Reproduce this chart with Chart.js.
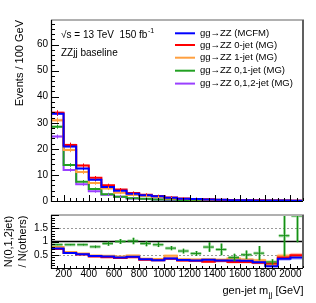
<!DOCTYPE html>
<html><head><meta charset="utf-8">
<script src="https://cdn.jsdelivr.net/npm/chart.js@4.4.1/dist/chart.umd.min.js"></script>
<style>
html,body{margin:0;padding:0;background:#fff;width:316px;height:303px;overflow:hidden;}
#c1{position:absolute;left:0;top:0;}
#c2{position:absolute;left:0;top:206px;}
</style></head><body>
<canvas id="c1" width="316" height="210"></canvas>
<canvas id="c2" width="316" height="97"></canvas>
<script>
// ---------- data ----------
const binEdges = [100,200,300,400,500,600,700,800,900,1000,1100,1200,1300,1400,1500,1600,1700,1800,1900,2000,2100];
const seriesLabels = ['gg\u2192ZZ (MCFM)','gg\u2192ZZ 0-jet (MG)','gg\u2192ZZ 1-jet (MG)','gg\u2192ZZ 0,1-jet (MG)','gg\u2192ZZ 0,1,2-jet (MG)'];

const mcfm  = [33.5,20.9,12.5,8.1,5.4,3.9,2.8,2.2,1.8,1.2,0.9,0.75,0.55,0.45,0.33,0.28,0.22,0.18,0.15,0.12];
const mg0   = [33.8,21.5,13.6,8.9,6.0,4.4,3.1,2.4,1.9,1.3,1.0,0.8,0.65,0.5,0.4,0.32,0.26,0.2,0.15,0.12];
const mg1   = [31.0,19.6,11.1,6.9,4.8,3.2,2.3,1.9,1.5,0.95,0.8,0.65,0.5,0.42,0.28,0.25,0.18,0.16,0.13,0.12];
const mg01  = [28.5,13.8,7.4,4.6,2.6,1.6,1.1,0.82,0.62,0.55,0.43,0.4,0.2,0.18,0.22,0.15,0.1,0.15,0.05,0.03];
const mg012 = [24.7,11.9,6.4,3.7,2.4,1.6,1.0,0.75,0.55,0.43,0.28,0.22,0.16,0.13,0.09,0.075,0.05,0.035,0.06,0.06];

const mcfmErr  = [0.5,0.4,0.3,0.25,0.2,0.18,0.15,0.13,0.11,0.1,0.09,0.08,0.07,0.06,0.06,0.05,0.05,0.04,0.04,0.04];
const mg0Err   = [0.6,0.5,0.4,0.3,0.25,0.2,0.18,0.15,0.13,0.11,0.1,0.09,0.08,0.07,0.06,0.05,0.05,0.04,0.04,0.04];
const mg1Err   = [0.6,0.5,0.4,0.3,0.25,0.2,0.18,0.15,0.13,0.11,0.1,0.09,0.08,0.07,0.06,0.05,0.05,0.04,0.04,0.04];
const mg01Err  = [0.4,0.3,0.25,0.2,0.15,0.12,0.1,0.08,0.07,0.06,0.05,0.05,0.04,0.04,0.03,0.03,0.03,0.02,0.02,0.02];
const mg012Err = [0.4,0.3,0.2,0.15,0.12,0.1,0.08,0.07,0.06,0.05,0.05,0.04,0.04,0.03,0.03,0.03,0.02,0.02,0.02,0.02];

// ratio N(0,1,2jet)/N(others)
const ratioMcfm = [0.74,0.57,0.52,0.45,0.43,0.40,0.42,0.33,0.29,0.36,0.30,0.28,0.31,0.28,0.28,0.27,0.22,0.07,0.35,0.40];
const ratioMg0  = [0.72,0.57,0.51,0.43,0.41,0.38,0.41,0.31,0.29,0.35,0.28,0.27,0.24,0.27,0.23,0.23,0.20,0.17,0.40,0.48];
const ratioMg1  = [0.79,0.60,0.55,0.47,0.46,0.43,0.47,0.35,0.34,0.46,0.33,0.32,0.33,0.31,0.36,0.32,0.29,0.10,0.46,0.45];
const ratioMg01 = [0.88,0.88,0.88,0.80,0.92,1.00,1.02,0.92,0.88,0.75,0.64,0.55,0.79,0.70,0.40,0.50,0.56,0.23,1.22,1.97];

const ratioMcfmErr = [0.02,0.02,0.02,0.03,0.03,0.03,0.04,0.04,0.04,0.05,0.05,0.05,0.05,0.06,0.06,0.06,0.06,0.05,0.08,0.09];
const ratioMg0Err  = [0.02,0.02,0.02,0.03,0.03,0.03,0.04,0.04,0.04,0.05,0.05,0.05,0.05,0.06,0.06,0.06,0.06,0.05,0.08,0.09];
const ratioMg1Err  = [0.02,0.02,0.02,0.03,0.03,0.03,0.04,0.04,0.04,0.05,0.05,0.05,0.05,0.06,0.06,0.06,0.06,0.05,0.08,0.09];
const ratioMg01Err = [0.02,0.02,0.03,0.05,0.08,0.09,0.12,0.10,0.09,0.08,0.09,0.09,0.18,0.22,0.14,0.16,0.27,0.10,0.78,1.00];

const mainYTicks  = [0,10,20,30,40,50,60];
const ratioYTicks = [0.5,1,1.5];
const xTickLabels = [200,400,600,800,1000,1200,1400,1600,1800,2000];

// ---------- styles ----------
const FONT = "'Liberation Sans', Arial, Helvetica, sans-serif";
Chart.defaults.font.family = FONT;
Chart.defaults.color = '#000';
const colors = ['#0000ff','#ff0000','#ffa040','#22a022','#9a40ff'];
const bands  = ['rgba(0,0,255,0.25)','rgba(255,0,0,0.25)','rgba(255,160,64,0.3)','rgba(34,160,34,0.25)','rgba(154,64,255,0.25)'];
const mainVals = [mcfm,mg0,mg1,mg01,mg012];
const mainErrs = [mcfmErr,mg0Err,mg1Err,mg01Err,mg012Err];

function stepData(vals){
  return binEdges.map((e,i)=>({x:e, y: vals[Math.min(i, vals.length-1)]}));
}

function drawFrame(chart, gray){
  const {ctx, chartArea:a} = chart;
  ctx.save();
  ctx.lineWidth = 2; ctx.strokeStyle = '#b0b0b0';
  ctx.beginPath(); ctx.moveTo(a.left, a.top); ctx.lineTo(a.right+1, a.top); ctx.stroke();
  ctx.strokeStyle = '#606060';
  ctx.beginPath(); ctx.moveTo(a.right, a.top); ctx.lineTo(a.right, a.bottom); ctx.stroke();
  ctx.lineWidth = 1.2; ctx.strokeStyle = '#000';
  ctx.beginPath(); ctx.moveTo(a.left+0.5, a.top); ctx.lineTo(a.left+0.5, a.bottom+0.5); ctx.lineTo(a.right, a.bottom+0.5); ctx.stroke();
  ctx.restore();
}

function drawTicks(chart, yMaj, yMin, yStepMin, yMaxV, xMajLen, xMinLen, yMajLen, yMinLen){
  const {ctx, chartArea:a, scales:{x,y}} = chart;
  ctx.save(); ctx.strokeStyle='#000'; ctx.lineWidth=1;
  ctx.beginPath();
  for (let v=0; v<=yMaxV+1e-9; v+=yStepMin){
    const yy = Math.round(y.getPixelForValue(v))+0.5;
    if (yy < a.top || yy > a.bottom+1) continue;
    const isMaj = yMaj.some(m=>Math.abs(m-v)<1e-6);
    ctx.moveTo(a.left, yy); ctx.lineTo(a.left + (isMaj? yMajLen : yMinLen), yy);
  }
  for (let v=100; v<=2100; v+=50){
    const xx = Math.round(x.getPixelForValue(v))+0.5;
    const isMaj = (v % 200 === 0);
    ctx.moveTo(xx, a.bottom); ctx.lineTo(xx, a.bottom - (isMaj? xMajLen : xMinLen));
  }
  ctx.stroke(); ctx.restore();
}

// ---------- main panel ----------
const mainPlugin = {
  id:'mainDeco',
  beforeDatasetsDraw(chart){
    const {ctx, chartArea:a, scales:{x,y}} = chart;
    ctx.save(); ctx.beginPath(); ctx.rect(a.left,a.top,a.right-a.left,a.bottom-a.top); ctx.clip();
    mainVals.forEach((vals,k)=>{
      ctx.fillStyle = bands[k];
      vals.forEach((v,i)=>{
        const x0=x.getPixelForValue(binEdges[i]), x1=x.getPixelForValue(binEdges[i+1]);
        const y0=y.getPixelForValue(v+mainErrs[k][i]), y1=y.getPixelForValue(v-mainErrs[k][i]);
        ctx.fillRect(x0,y0,x1-x0,Math.max(1,y1-y0));
      });
    });
    ctx.restore();
  },
  afterDatasetsDraw(chart){
    const {ctx, chartArea:a, scales:{x,y}} = chart;
    ctx.save();
    // error bars
    mainVals.forEach((vals,k)=>{
      ctx.strokeStyle = colors[k]; ctx.lineWidth = 1;
      ctx.beginPath();
      vals.forEach((v,i)=>{
        const xc = Math.round(x.getPixelForValue((binEdges[i]+binEdges[i+1])/2))+0.5;
        ctx.moveTo(xc, y.getPixelForValue(v+mainErrs[k][i])-1);
        ctx.lineTo(xc, y.getPixelForValue(v-mainErrs[k][i])+1);
      });
      ctx.stroke();
    });
    ctx.restore();
    drawFrame(chart);
    drawTicks(chart, mainYTicks, null, 2, 69, 6, 3, 8, 4);
    ctx.save();
    ctx.fillStyle='#000';
    // y title
    ctx.font = '11px ' + FONT;
    ctx.translate(20, a.top); ctx.rotate(-Math.PI/2);
    ctx.textAlign='right'; ctx.textBaseline='middle';
    ctx.fillText('Events / 100 GeV', 0, 0);
    ctx.restore();
    ctx.save();
    ctx.fillStyle='#000'; ctx.textBaseline='middle'; ctx.textAlign='left';
    ctx.font = '10px ' + FONT;
    const t1 = '\u221As = 13 TeV  150 fb';
    ctx.fillText(t1, 61, 35);
    const w1 = ctx.measureText(t1).width;
    ctx.font = '7px ' + FONT;
    ctx.fillText('-1', 61 + w1 + 0.5, 31);
    ctx.font = '10px ' + FONT;
    ctx.fillText('ZZjj baseline', 61, 53);
    // legend
    ctx.font = '9.5px ' + FONT;
    const rows = [33.3, 45, 57.7, 70.7, 83.6];
    seriesLabels.forEach((lab,k)=>{
      ctx.strokeStyle = colors[k]; ctx.lineWidth = 2;
      ctx.beginPath(); ctx.moveTo(175, rows[k]); ctx.lineTo(195, rows[k]); ctx.stroke();
      ctx.fillStyle = '#000';
      ctx.fillText(lab, 200, rows[k]);
    });
    ctx.restore();
  }
};

new Chart(document.getElementById('c1'), {
  type:'line',
  data:{datasets: mainVals.map((vals,k)=>({label:seriesLabels[k], data:stepData(vals), borderColor:colors[k], borderWidth:2, stepped:'before', pointRadius:0, fill:false}))},
  options:{
    responsive:false, animation:false, devicePixelRatio:1,
    layout:{padding:{left:0,right:13,top:20,bottom:5}},
    plugins:{legend:{display:false}, tooltip:{enabled:false}},
    scales:{
      x:{type:'linear', min:100, max:2100, display:false},
      y:{type:'linear', min:0, max:69.4,
         grid:{display:false, drawTicks:false}, border:{display:false},
         ticks:{font:{size:10}, color:'#000', padding:3, callback:v=>String(v)},
         afterBuildTicks:s=>{ s.ticks = mainYTicks.map(v=>({value:v})); },
         afterFit:s=>{ s.width = 51; }}
    }
  },
  plugins:[mainPlugin]
});

// ---------- ratio panel ----------
const ratioVals = [ratioMcfm, ratioMg0, ratioMg1];
const ratioErrs = [ratioMcfmErr, ratioMg0Err, ratioMg1Err];
const ratioPlugin = {
  id:'ratioDeco',
  beforeDatasetsDraw(chart){
    const {ctx, chartArea:a, scales:{x,y}} = chart;
    ctx.save(); ctx.beginPath(); ctx.rect(a.left,a.top,a.right-a.left,a.bottom-a.top); ctx.clip();
    // dotted reference lines
    ctx.strokeStyle='#999'; ctx.lineWidth=1; ctx.setLineDash([2,2]);
    [0.5,1.5].forEach(v=>{
      const yy=Math.round(y.getPixelForValue(v))+0.5;
      ctx.beginPath(); ctx.moveTo(a.left,yy); ctx.lineTo(a.right,yy); ctx.stroke();
    });
    ctx.setLineDash([]);
    // bands
    ratioVals.forEach((vals,k)=>{
      ctx.fillStyle = bands[k];
      vals.forEach((v,i)=>{
        const x0=x.getPixelForValue(binEdges[i]), x1=x.getPixelForValue(binEdges[i+1]);
        const y0=y.getPixelForValue(v+ratioErrs[k][i]), y1=y.getPixelForValue(v-ratioErrs[k][i]);
        ctx.fillRect(x0,y0,x1-x0,Math.max(1,y1-y0));
      });
    });
    // solid line at 1
    ctx.strokeStyle='#000'; ctx.lineWidth=1.5;
    const y1p = y.getPixelForValue(1);
    ctx.beginPath(); ctx.moveTo(a.left,y1p); ctx.lineTo(a.right,y1p); ctx.stroke();
    ctx.restore();
  },
  afterDatasetsDraw(chart){
    const {ctx, chartArea:a, scales:{x,y}} = chart;
    ctx.save(); ctx.beginPath(); ctx.rect(a.left,a.top-1,a.right-a.left,a.bottom-a.top+1); ctx.clip();
    // green crosses: thick light + thin dark
    [[ 'rgba(34,160,34,0.45)', 3 ], [ '#159015', 1 ]].forEach(([col,lw])=>{
      ctx.strokeStyle = col; ctx.lineWidth = lw;
      ratioMg01.forEach((v,i)=>{
        const x0=x.getPixelForValue(binEdges[i]), x1=x.getPixelForValue(binEdges[i+1]);
        const xc=Math.round((x0+x1)/2)+0.5;
        const yv=y.getPixelForValue(v);
        ctx.beginPath();
        ctx.moveTo(x0+1,yv); ctx.lineTo(x1-1,yv);
        ctx.moveTo(xc,y.getPixelForValue(v+ratioMg01Err[i])); ctx.lineTo(xc,y.getPixelForValue(Math.max(0,v-ratioMg01Err[i])));
        ctx.stroke();
      });
    });
    ctx.restore();
    drawFrame(chart);
    drawTicks(chart, [0,0.5,1,1.5,2], null, 0.1, 2, 4, 2, 8, 4);
    ctx.save(); ctx.fillStyle='#000';
    ctx.font = '11px ' + FONT;
    ctx.textAlign='center'; ctx.textBaseline='middle';
    const cy = (a.top+a.bottom)/2;
    ctx.save(); ctx.translate(9, cy); ctx.rotate(-Math.PI/2); ctx.fillText('N(0,1,2jet)',0,0); ctx.restore();
    ctx.save(); ctx.translate(23, cy); ctx.rotate(-Math.PI/2); ctx.fillText('/ N(others)',0,0); ctx.restore();
    // x title, right aligned at frame right
    const p1='gen-jet m', p2='jj', p3=' [GeV]';
    ctx.textAlign='left'; ctx.textBaseline='alphabetic';
    ctx.font='11px '+FONT; const w1=ctx.measureText(p1).width, w3=ctx.measureText(p3).width;
    ctx.font='8px '+FONT; const w2=ctx.measureText(p2).width;
    let xs = a.right - (w1+w2+w3);
    const yb = 88;
    ctx.font='11px '+FONT; ctx.fillText(p1, xs, yb);
    ctx.font='8px '+FONT; ctx.fillText(p2, xs+w1+0.5, yb+3);
    ctx.font='11px '+FONT; ctx.fillText(p3, xs+w1+w2+0.5, yb);
    ctx.restore();
  }
};

new Chart(document.getElementById('c2'), {
  type:'line',
  data:{datasets: ratioVals.map((vals,k)=>({label:seriesLabels[k], data:stepData(vals), borderColor:colors[k], borderWidth:2, stepped:'before', pointRadius:0, fill:false}))},
  options:{
    responsive:false, animation:false, devicePixelRatio:1,
    layout:{padding:{left:0,right:13,top:6,bottom:0}},
    plugins:{legend:{display:false}, tooltip:{enabled:false}},
    scales:{
      x:{type:'linear', min:100, max:2100,
         grid:{display:false, drawTicks:false}, border:{display:false},
         ticks:{font:{size:10}, color:'#000', padding:0, maxRotation:0, autoSkip:false, callback:v=>String(v)},
         afterBuildTicks:s=>{ s.ticks = xTickLabels.map(v=>({value:v})); },
         afterFit:s=>{ s.height = 35; }},
      y:{type:'linear', min:0, max:2,
         grid:{display:false, drawTicks:false}, border:{display:false},
         ticks:{font:{size:10}, color:'#000', padding:3, callback:v=>String(v)},
         afterBuildTicks:s=>{ s.ticks = ratioYTicks.map(v=>({value:v})); },
         afterFit:s=>{ s.width = 51; }}
    }
  },
  plugins:[ratioPlugin]
});
</script>
</body></html>
